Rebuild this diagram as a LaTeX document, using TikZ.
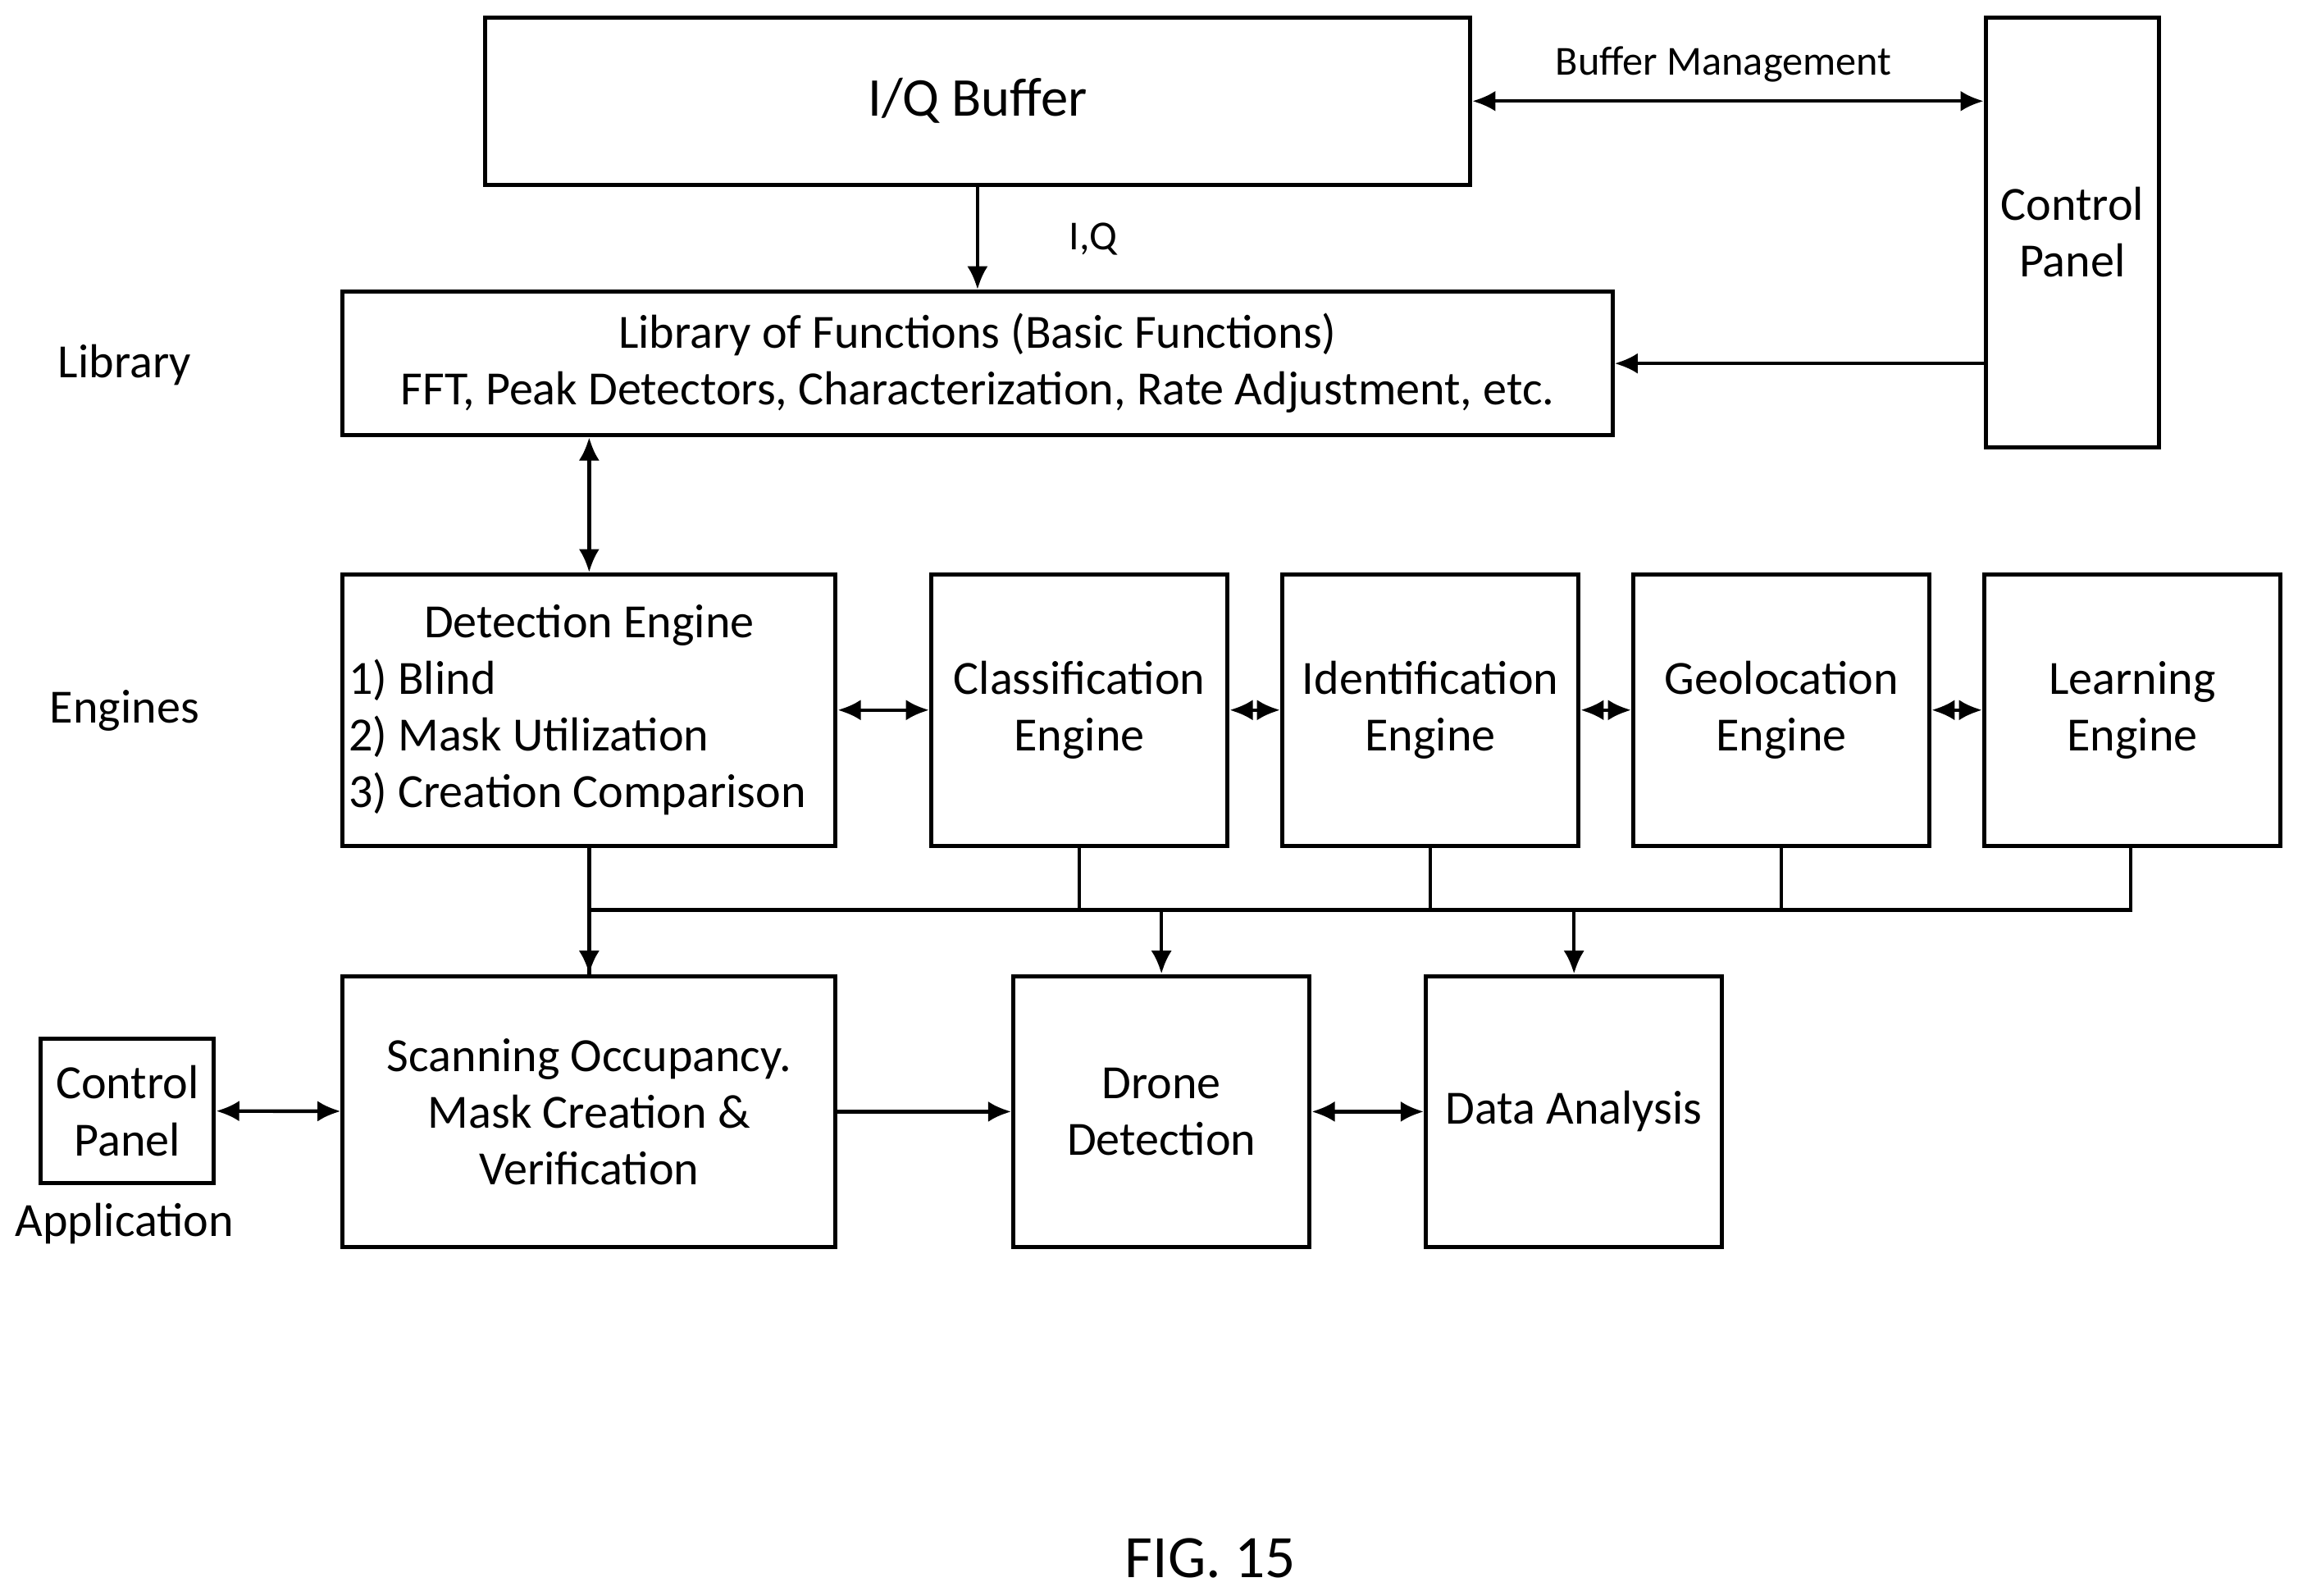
\documentclass[tikz,border=0pt]{standalone}
\usepackage{fontspec}
\setmainfont{Carlito}
\usetikzlibrary{arrows.meta}

\begin{document}
\begin{tikzpicture}[x=0.01cm,y=-0.01cm,>={Latex[length=4.5pt,width=4pt]},line width=0.7pt]
		\tikzstyle{block}=[draw,line width=0.8pt,align=center,inner sep=0pt,font=\fontsize{9.25}{11}\selectfont]
		\tikzstyle{engine}=[block,minimum width=2.02cm,minimum height=1.85cm]
		\tikzstyle{annot}=[font=\fontsize{9.25}{11}\selectfont]
		\tikzstyle{small}=[font=\fontsize{8}{9}\selectfont]
		\useasboundingbox (0,0) rectangle (1568,1089);

		% top row
		\node[block,minimum width=6.72cm,minimum height=1.14cm,font=\fontsize{10.6}{13}\selectfont] (IQ) at (667,69) {I/Q Buffer};
		\node[block,minimum width=1.18cm,minimum height=2.93cm] (CP-1) at (1414,158.5) {Control\\Panel};
		\node[block,minimum width=8.66cm,minimum height=0.98cm] (LIB) at (667,248) {Library of Functions (Basic Functions)\\FFT, Peak Detectors, Characterization, Rate Adjustment, etc.};

		% engines
		\node[block,align=left,minimum width=3.36cm,minimum height=1.85cm] (E-1) at (402,484.5) {\makebox[3.28cm]{Detection Engine}\\1) Blind\\2) Mask Utilization\\3) Creation Comparison};
		\node[engine] (E-2) at (736.5,484.5) {Classification\\Engine};
		\node[engine] (E-3) at (976,484.5) {Identification\\Engine};
		\node[engine] (E-4) at (1215.5,484.5) {Geolocation\\Engine};
		\node[engine] (E-5) at (1455,484.5) {Learning\\Engine};

		% applications
		\node[block,minimum width=3.36cm,minimum height=1.85cm] (A-1) at (402,758.5) {Scanning Occupancy.\\Mask Creation \&\\Verification};
		\node[engine] (A-2) at (792.5,758.5) {Drone\\Detection};
		\node[engine] (A-3) at (1074,758.5) {Data Analysis};
		\node[block,minimum width=1.18cm,minimum height=0.98cm] (CP-2) at (87,758) {Control\\Panel};

		% labels
		\node[annot] (L-1) at (85,249) {Library};
		\node[annot] (L-2) at (85,485) {Engines};
		\node[annot] (L-3) at (85,835) {Application};
		\node[small] (L-4) at (746,163) {I,Q};
		\node[small] (L-5) at (1176,44) {Buffer Management};
		\node[annot,font=\fontsize{11.7}{13}\selectfont] (FIG) at (826,1063) {FIG. 15};

		% connections
		\draw[->] (IQ) -- (LIB);
		\draw[<->] (IQ.east) -- (IQ.east -| CP-1.west);
		\draw[->] (CP-1.west |- LIB.east) -- (LIB.east);
		\draw[<->] (LIB.south -| E-1) -- (E-1);
		\draw[<->] (E-1) -- (E-2);
		\draw[<->] (E-2) -- (E-3);
		\draw[<->] (E-3) -- (E-4);
		\draw[<->] (E-4) -- (E-5);
		\coordinate (B-1) at (402,621);
		\coordinate (B-2) at (1454,621);
		\draw (E-1) -- (A-1);
		\draw (B-1) -- (B-2) -- (E-5.south -| B-2);
		\foreach \e in {2,3,4}
			\draw (E-\e) -- (E-\e |- B-1);
		\draw[->] (A-2 |- B-1) -- (A-2);
		\draw[->] (A-3 |- B-1) -- (A-3);
		\draw[->] (B-1) -- (A-1);
		\draw[<->] (CP-2) -- (A-1);
		\draw[->] (A-1) -- (A-2);
		\draw[<->] (A-2) -- (A-3);
\end{tikzpicture}
\end{document}
